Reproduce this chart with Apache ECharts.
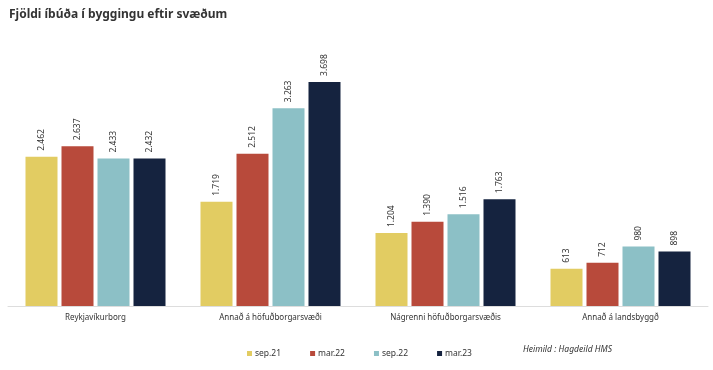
<!DOCTYPE html>
<html><head><meta charset="utf-8">
<script src="https://cdn.jsdelivr.net/npm/echarts@6/dist/echarts.min.js"></script>
<style>html,body{margin:0;padding:0;background:#fff}#c{width:713px;height:370px}</style>
</head><body><div id="c"></div>
<script>
const categories = ['Reykjavíkurborg', 'Annað á höfuðborgarsvæði', 'Nágrenni höfuðborgarsvæðis', 'Annað á landsbyggð'];
const sep21 = [2462, 1719, 1204, 613];
const mar22 = [2637, 2512, 1390, 712];
const sep22 = [2433, 3263, 1516, 980];
const mar23 = [2432, 3698, 1763, 898];
const seriesNames = ['sep.21', 'mar.22', 'sep.22', 'mar.23'];
const colors = ['#E2CC62', '#B84A3B', '#8CC0C6', '#15233F'];
const fmt = v => String(v).replace(/\B(?=(\d{3})+(?!\d))/g, '.');
const chart = echarts.init(document.getElementById('c'));
const data = [sep21, mar22, sep22, mar23];
chart.setOption({
  animation: false,
  title: { text: 'Fjöldi íbúða í byggingu eftir svæðum', left: 4, top: 4,
    textStyle: { fontFamily: 'Noto Sans', fontSize: 12, fontWeight: 'bold', color: '#333' } },
  legend: { left: 242, top: 344, itemWidth: 5, itemHeight: 5, itemGap: 29, icon: 'rect',
    textStyle: { fontFamily: 'Noto Sans', fontSize: 8.5, color: '#333', padding: [0, 0, 0, -2] }, data: seriesNames },
  graphic: [{ type: 'text', left: 523, top: 345,
    style: { text: 'Heimild : Hagdeild HMS', font: 'italic 8.5px "Noto Sans"', fill: '#333' } }],
  grid: { left: 8, right: 5, top: 63.6, bottom: 64, containLabel: false },
  xAxis: { type: 'category', data: categories,
    axisLine: { lineStyle: { color: '#ddd' } }, axisTick: { show: false },
    axisLabel: { fontFamily: 'Noto Sans', fontSize: 8, color: '#333', margin: 8 } },
  yAxis: { type: 'value', min: 0, max: 4000, show: false, splitLine: { show: false } },
  series: seriesNames.map((n, i) => ({
    name: n, type: 'bar', data: data[i], barWidth: 32, barGap: '12.5%',
    itemStyle: { color: colors[i] },
    label: { show: true, position: 'top', rotate: 90, align: 'left', verticalAlign: 'middle', distance: 6,
      fontFamily: 'Noto Sans', fontSize: 8.5, color: '#333', formatter: p => fmt(p.value) }
  }))
});
</script></body></html>
